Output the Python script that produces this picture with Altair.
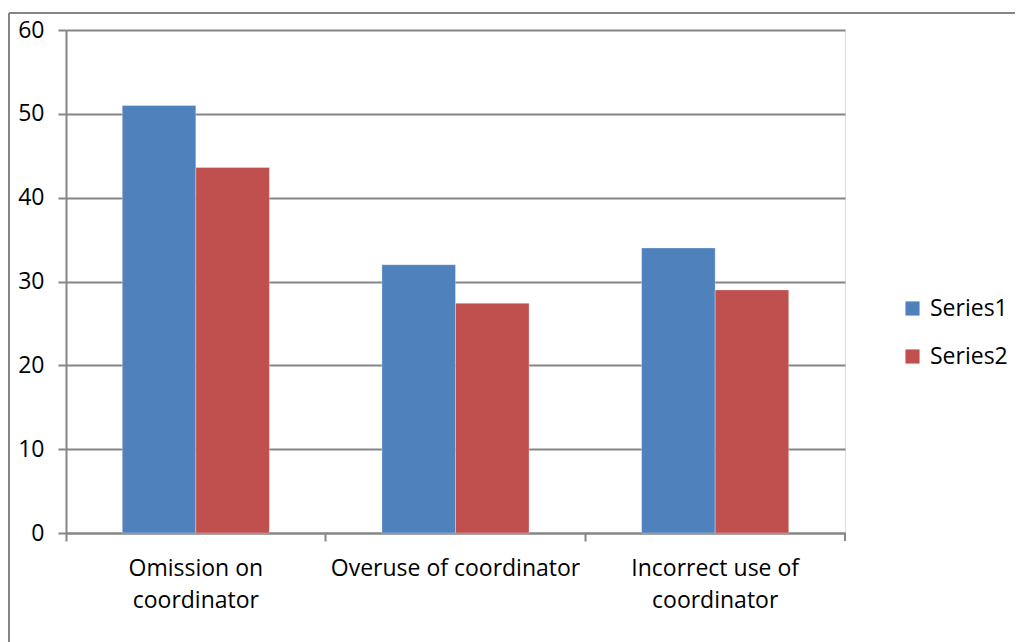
import altair as alt
import pandas as pd

categories = ["Omission on coordinator", "Overuse of coordinator", "Incorrect use of coordinator"]
label_lines = [["Omission on", "coordinator"], ["Overuse of coordinator"], ["Incorrect use of", "coordinator"]]
series_names = ["Series1", "Series2"]
series1 = [51, 32, 34]
series2 = [43.6, 27.4, 29]
colors = ["#4F81BD", "#C0504D"]

rows = []
for c, a, b in zip(categories, series1, series2):
    rows.append({"category": c, "series": "Series1", "value": a})
    rows.append({"category": c, "series": "Series2", "value": b})
df = pd.DataFrame(rows)

W, H = 779, 503
FONT = "Open Sans"
FS = 23
GRAY = "#868686"

expr_parts = []
for c, lines in zip(categories, label_lines):
    arr = "[" + ",".join("'" + l + "'" for l in lines) + "]"
    expr_parts.append(f"datum.value == '{c}' ? {arr} : ")
label_expr = "".join(expr_parts) + "datum.label"

bars = alt.Chart(df).mark_bar(stroke="white", strokeWidth=0.5, strokeOpacity=0.6).encode(
    x=alt.X("category:N", sort=categories, title=None,
            scale=alt.Scale(paddingInner=0, paddingOuter=0),
            axis=alt.Axis(labelAngle=0, labelExpr=label_expr, bandPosition=0,
                          domainColor=GRAY, domainWidth=2, tickColor=GRAY, tickWidth=2,
                          tickSize=8, labelFont=FONT, labelFontSize=FS, labelColor="black",
                          labelPadding=16, labelLineHeight=32, labelBaseline="top",
                          labelLimit=0, labelFontWeight="normal")),
    xOffset=alt.XOffset("series:N", sort=series_names,
                        scale=alt.Scale(paddingInner=0, paddingOuter=0.765)),
    y=alt.Y("value:Q", title=None,
            scale=alt.Scale(domain=[0, 60], nice=False),
            axis=alt.Axis(values=[0, 10, 20, 30, 40, 50, 60], grid=True, gridColor=GRAY,
                          gridWidth=2, domainColor=GRAY, domainWidth=2, tickColor=GRAY,
                          tickWidth=2, tickSize=8, labelFont=FONT, labelFontSize=FS,
                          labelColor="black", labelPadding=14)),
    color=alt.Color("series:N", sort=series_names, title=None,
                    scale=alt.Scale(domain=series_names, range=colors),
                    legend=alt.Legend(orient="none", legendX=835, legendY=267,
                                      symbolType="square", symbolSize=200,
                                      symbolStrokeWidth=0, labelFont=FONT,
                                      labelFontSize=FS, labelColor="black",
                                      rowPadding=24, labelOffset=6)),
)

end_tick = alt.Chart(df).mark_rule(color=GRAY, strokeWidth=2).encode(
    x=alt.value(W), y=alt.value(H), y2=alt.value(H + 8)
)

frame_top = alt.Chart(df).mark_rule(color=GRAY, strokeWidth=2).encode(
    x=alt.value(-57), x2=alt.value(1015 - 66), y=alt.value(-17)
)
frame_left = alt.Chart(df).mark_rule(color=GRAY, strokeWidth=2).encode(
    x=alt.value(-57), y=alt.value(-17), y2=alt.value(642)
)

chart = alt.layer(bars, end_tick, frame_top, frame_left).properties(
    width=W, height=H,
    autosize=alt.AutoSizeParams(type="none"),
    padding={"left": 66, "top": 30, "right": 1016 - 66 - W, "bottom": 642 - 30 - H},
).configure_view(stroke=None).configure(background="white")

chart.save("out.html", embed_options={"renderer": "svg", "actions": False})
